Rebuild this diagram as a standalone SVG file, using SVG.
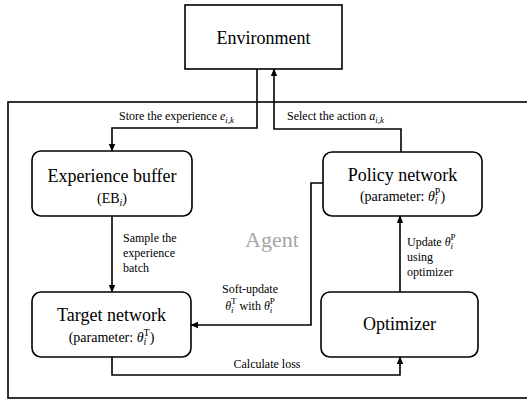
<svg xmlns="http://www.w3.org/2000/svg" width="527" height="401" viewBox="0 0 527 401">
<defs>
<marker id="arr" markerWidth="8" markerHeight="8" refX="7" refY="4" orient="auto" markerUnits="userSpaceOnUse">
<path d="M0,0.8 L7.5,4 L0,7.2 z" fill="#000"/>
</marker>
<style>
.box{fill:#fff;stroke:#000;stroke-width:1.6}
.agent{fill:none;stroke:#000;stroke-width:1.6}
.ln{fill:none;stroke:#000;stroke-width:1.6;marker-end:url(#arr)}
.t{font-family:"Liberation Serif","Times New Roman",serif;fill:#000}
.big{font-size:18px}
.mid{font-size:14px}
.sm{font-size:12px}
.it{font-style:italic}
</style>
</defs>
<rect class="agent" x="8" y="102" width="530" height="296"/>
<text class="t" x="245" y="247" font-size="22" fill="#a6a6a6" style="fill:#a6a6a6">Agent</text>
<g id="environment">
<rect class="box" x="185" y="5" width="157" height="64"/>
<text class="t big" x="263.5" y="44" text-anchor="middle">Environment</text>
</g>
<g id="experience-buffer">
<rect class="box" x="32" y="151" width="160" height="65" rx="9"/>
<text class="t big" x="112" y="182" text-anchor="middle">Experience buffer</text>
<text class="t mid" x="112" y="203" text-anchor="middle">(EB<tspan class="it" font-size="10" dy="3">i</tspan><tspan dy="-3">)</tspan></text>
</g>
<g id="policy-network">
<rect class="box" x="323" y="152" width="159" height="64" rx="9"/>
<text class="t big" x="402.5" y="181" text-anchor="middle">Policy network</text>
<text class="t mid" x="402.5" y="201" text-anchor="middle">(parameter: <tspan class="it">θ</tspan><tspan class="it" font-size="10" dy="3">i</tspan><tspan font-size="10" dx="-2.8" dy="-9">P</tspan><tspan dy="6">)</tspan></text>
</g>
<g id="target-network">
<rect class="box" x="32" y="292" width="159" height="65" rx="9"/>
<text class="t big" x="111.5" y="321" text-anchor="middle">Target network</text>
<text class="t mid" x="111.5" y="342" text-anchor="middle">(parameter: <tspan class="it">θ</tspan><tspan class="it" font-size="10" dy="3">i</tspan><tspan font-size="10" dx="-2.8" dy="-9">T</tspan><tspan dy="6">)</tspan></text>
</g>
<g id="optimizer">
<rect class="box" x="321" y="292" width="157" height="65" rx="9"/>
<text class="t big" x="399.5" y="330" text-anchor="middle">Optimizer</text>
</g>
<g id="connectors">
<path class="ln" d="M257,69 V128 H112 V151"/>
<path class="ln" d="M401,152 V129 H274 V69"/>
<path class="ln" d="M112,216 V292"/>
<path class="ln" d="M323,183 H311 V325 H191"/>
<path class="ln" d="M112,357 V375 H400 V357"/>
<path class="ln" d="M400,292 V216"/>
<text class="t sm" x="119" y="120">Store the experience <tspan class="it">e</tspan><tspan class="it" font-size="9" dy="3">i,k</tspan></text>
<text class="t sm" x="287" y="120">Select the action <tspan class="it">a</tspan><tspan class="it" font-size="9" dy="3">i,k</tspan></text>
<text class="t sm" x="123" y="242">Sample the</text>
<text class="t sm" x="123" y="257">experience</text>
<text class="t sm" x="123" y="272">batch</text>
<text class="t sm" x="407" y="246">Update <tspan class="it">θ</tspan><tspan class="it" font-size="9" dy="3">i</tspan><tspan font-size="9" dx="-2.5" dy="-9">P</tspan></text>
<text class="t sm" x="407" y="261">using</text>
<text class="t sm" x="407" y="276">optimizer</text>
<text class="t sm" x="250" y="293" text-anchor="middle">Soft-update</text>
<text class="t sm" x="250" y="310" text-anchor="middle"><tspan class="it">θ</tspan><tspan class="it" font-size="9" dy="3">i</tspan><tspan font-size="9" dx="-2.5" dy="-9">T</tspan><tspan dy="6"> with </tspan><tspan class="it">θ</tspan><tspan class="it" font-size="9" dy="3">i</tspan><tspan font-size="9" dx="-2.5" dy="-9">P</tspan></text>
<text class="t sm" x="267" y="368" text-anchor="middle">Calculate loss</text>
</g>
</svg>
